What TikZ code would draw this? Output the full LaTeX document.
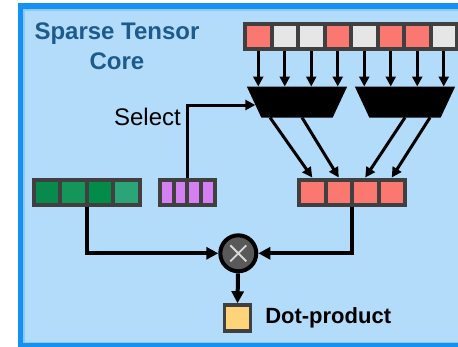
\documentclass[tikz,border=0pt]{standalone}
\usepackage{fontspec}
\setmainfont{Liberation Sans}
\usetikzlibrary{arrows.meta,calc,positioning}
\definecolor{frameblue}{HTML}{1590F5}
\definecolor{rimblue}{HTML}{8CCAF6}
\definecolor{paleblue}{HTML}{B3DCFB}
\definecolor{titleblue}{HTML}{1D5A8E}
\definecolor{cellgrey}{HTML}{404040}
\definecolor{redcell}{HTML}{FA7870}
\definecolor{offcell}{HTML}{E6E6E6}
\definecolor{selcell}{HTML}{D580F2}
\definecolor{greenA}{HTML}{078A4B}
\definecolor{greenB}{HTML}{149559}
\definecolor{greenC}{HTML}{038B49}
\definecolor{greenD}{HTML}{2BA478}
\definecolor{mulgrey}{HTML}{595959}
\definecolor{dotyellow}{HTML}{FFD37A}

\begin{document}
\begin{tikzpicture}[x=1pt,y=-1pt,
    every node/.style={inner sep=0pt},
    cell/.style={draw=cellgrey, line width=4pt, minimum width=26.5pt, minimum height=25pt},
    thincell/.style={cell, minimum width=13.7pt},
    mux/.style={minimum width=100pt, minimum height=30.6pt},
    feed/.style={line width=3pt, -{Triangle[length=10pt,width=10pt]}},
    wire/.style={line width=4pt, -{Triangle[length=12pt,width=12pt]}}]
    \useasboundingbox (0,0) rectangle (458,346);
    \fill[white] (0,0) rectangle (458,346);
    \fill[frameblue] (17.5,3) rectangle (470,352);
    \fill[rimblue] (23.3,9) rectangle (470,342.5);
    \fill[paleblue] (25.3,11) rectangle (470,341.5);

    \node[anchor=north, align=center, text=titleblue, font=\fontsize{24}{30}\selectfont\bfseries] (title) at (117,23) {Sparse Tensor\\Core};

    \foreach \c [count=\i] in {redcell,offcell,offcell,redcell,offcell,redcell,redcell,offcell}
        \node[cell, fill=\c] (t\i) at ({258.25+26.5*(\i-1)},36.5) {};
    \node[mux] (m1) at (297,102) {};
    \node[mux] (m2) at (405,102) {};
    \foreach \m in {m1,m2}
        \fill (\m.north west) -- (\m.north east) -- ([xshift=-14.5pt]\m.south east)
            -- ([xshift=14.5pt]\m.south west) -- cycle;
    \foreach \i in {1,...,4}
        \draw[feed] (t\i.south) -- (t\i.south |- m1.north);
    \foreach \i in {5,...,8}
        \draw[feed] (t\i.south) -- (t\i.south |- m2.north);

    \foreach \c [count=\i] in {greenA,greenB,greenC,greenD}
        \node[cell, fill=\c] (g\i) at ({47+26.5*(\i-1)},192) {};
    \foreach \i in {1,...,4}
        \node[thincell, fill=selcell] (p\i) at ({166.85+13.7*(\i-1)},192) {};
    \foreach \i in {1,...,4}
        \node[cell, fill=redcell] (o\i) at ({312.25+26.5*(\i-1)},192) {};

    \draw[feed] ([xshift=-27pt]m1.south) -- (o1.north);
    \draw[feed] ([xshift=5pt]m1.south) -- (o2.north);
    \draw[feed] (m2.south) -- (o3.north);
    \draw[feed] ([xshift=25pt]m2.south) -- (o4.north);

    \node[anchor=base east, font=\fontsize{24}{28}\selectfont] (sel) at (181,125) {Select};
    \draw[feed] ($(p2.north)!0.5!(p3.north)$) |- ([shift={(8.5,3)}]m1.west);

    \node[circle, draw=black, line width=4pt, fill=mulgrey, minimum size=36pt] (mul) at (238.3,253.3) {};
    \draw[white!85!black, line width=1.8pt] ([shift={(-8,-8)}]mul.center) -- ([shift={(8,8)}]mul.center)
        ([shift={(-8,8)}]mul.center) -- ([shift={(8,-8)}]mul.center);
    \node[draw=cellgrey, line width=3.5pt, fill=dotyellow, minimum size=26pt] (dp) at (237.3,318) {};
    \node[right=13pt of dp, font=\fontsize{22}{26}\selectfont\bfseries] (dplabel) {Dot-product};

    \draw[wire] ($(g2.south)!0.5!(g3.south)$) |- (mul);
    \draw[wire] ($(o2.south)!0.5!(o3.south)$) |- (mul);
    \draw[wire] (mul) -- (dp);
\end{tikzpicture}
\end{document}
